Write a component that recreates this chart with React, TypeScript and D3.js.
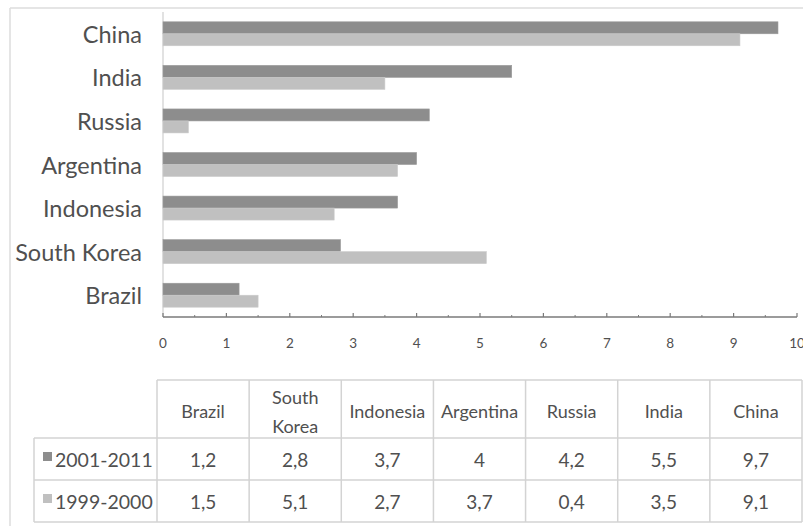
import React from "react";
import * as d3 from "d3";

const categories = ["Brazil", "South Korea", "Indonesia", "Argentina", "Russia", "India", "China"];
const series = ["2001-2011", "1999-2000"];
const values2001_2011 = [1.2, 2.8, 3.7, 4, 4.2, 5.5, 9.7];
const values1999_2000 = [1.5, 5.1, 2.7, 3.7, 0.4, 3.5, 9.1];
const xTicks = [0, 1, 2, 3, 4, 5, 6, 7, 8, 9, 10];
const headerLines: Record<string, string[]> = { "South Korea": ["South", "Korea"] };

const W = 803;
const H = 526;
const colors = ["#8d8d8d", "#c0c0c0"];
const textColor = "#505050";
const font = "Lato, 'Open Sans', sans-serif";

const fmt = (v: number) => String(v).replace(".", ",");

export default function App() {
  const seriesValues = [values2001_2011, values1999_2000];
  const x = d3.scaleLinear().domain([0, 10]).range([163, 797]);
  const y = d3
    .scaleBand<string>()
    .domain([...categories].reverse())
    .range([12, 317])
    .paddingInner(0.45)
    .paddingOuter(0.225);
  const ys = d3.scaleBand<string>().domain(series).range([0, y.bandwidth()]);
  const minor = d3.range(0.5, 10, 1);

  const colX = d3.scaleBand<string>().domain(categories).range([157, 802]);
  const rowTop = 380;
  const headerBottom = 438;
  const row1Bottom = 480;
  const row2Bottom = 522;
  const legendLeft = 34;
  const border = "#d3d3d3";

  return (
    <svg width={W} height={H} style={{ position: "absolute", left: 0, top: 0, background: "#fff" }}>
      <line x1={10} y1={8} x2={W} y2={8} stroke="#dcdcdc" strokeWidth={1.5} />
      <line x1={10} y1={8} x2={10} y2={H} stroke="#dcdcdc" strokeWidth={1.5} />

      <line x1={163} y1={12} x2={163} y2={317} stroke="#d9d9d9" strokeWidth={1.5} />

      {categories.map((c, i) => (
        <g key={c}>
          {series.map((s, j) => (
            <rect
              key={s}
              x={x(0)}
              y={(y(c) as number) + (ys(s) as number)}
              width={x(seriesValues[j][i]) - x(0)}
              height={ys.bandwidth()}
              fill={colors[j]}
              stroke={j === 0 ? "#9a9a9a" : "#cacaca"}
              strokeWidth={0.6}
            />
          ))}
          <text
            x={142}
            y={(y(c) as number) + y.bandwidth() / 2}
            textAnchor="end"
            dominantBaseline="central"
            fontFamily={font}
            fontSize={23.5}
            fill={textColor}
          >
            {c}
          </text>
        </g>
      ))}

      <line x1={x(0)} y1={317} x2={x(10)} y2={317} stroke="#7a7a7a" strokeWidth={1.5} />
      {xTicks.map((t) => (
        <g key={t}>
          <line x1={x(t)} y1={313} x2={x(t)} y2={317} stroke="#7a7a7a" strokeWidth={1.2} />
          <text
            x={x(t)}
            y={343}
            textAnchor="middle"
            dominantBaseline="central"
            fontFamily={font}
            fontSize={13.5}
            fill={textColor}
          >
            {t}
          </text>
        </g>
      ))}
      {minor.map((t) => (
        <line key={t} x1={x(t)} y1={315} x2={x(t)} y2={317} stroke="#7a7a7a" strokeWidth={1} />
      ))}

      <g stroke={border} strokeWidth={1.5} fill="none">
        <line x1={157} y1={rowTop} x2={802} y2={rowTop} />
        <line x1={legendLeft} y1={headerBottom} x2={802} y2={headerBottom} />
        <line x1={legendLeft} y1={row1Bottom} x2={802} y2={row1Bottom} />
        <line x1={legendLeft} y1={row2Bottom} x2={802} y2={row2Bottom} />
        <line x1={legendLeft} y1={headerBottom} x2={legendLeft} y2={row2Bottom} />
        {categories.map((c) => (
          <line key={c} x1={colX(c) as number} y1={rowTop} x2={colX(c) as number} y2={row2Bottom} />
        ))}
        <line x1={802} y1={rowTop} x2={802} y2={row2Bottom} />
      </g>
      {categories.map((c, i) => {
        const cx = (colX(c) as number) + colX.bandwidth() / 2;
        const lines = headerLines[c] || [c];
        const hc = (rowTop + headerBottom) / 2 + 2;
        return (
          <g key={c}>
            {lines.map((l, k) => (
              <text
                key={k}
                x={cx}
                y={hc + (k - (lines.length - 1) / 2) * 29}
                textAnchor="middle"
                dominantBaseline="central"
                fontFamily={font}
                fontSize={18}
                fill={textColor}
              >
                {l}
              </text>
            ))}
            {series.map((s, j) => (
              <text
                key={s}
                x={cx}
                y={j === 0 ? (headerBottom + row1Bottom) / 2 : (row1Bottom + row2Bottom) / 2}
                textAnchor="middle"
                dominantBaseline="central"
                fontFamily={font}
                fontSize={19}
                fill={textColor}
              >
                {fmt(seriesValues[j][i])}
              </text>
            ))}
          </g>
        );
      })}
      {series.map((s, j) => {
        const cy = j === 0 ? (headerBottom + row1Bottom) / 2 : (row1Bottom + row2Bottom) / 2;
        return (
          <g key={s}>
            <rect x={43} y={cy - 7} width={9} height={9} fill={colors[j]} />
            <text
              x={55}
              y={cy}
              dominantBaseline="central"
              fontFamily={font}
              fontSize={19.5}
              fill={textColor}
            >
              {s}
            </text>
          </g>
        );
      })}
    </svg>
  );
}
